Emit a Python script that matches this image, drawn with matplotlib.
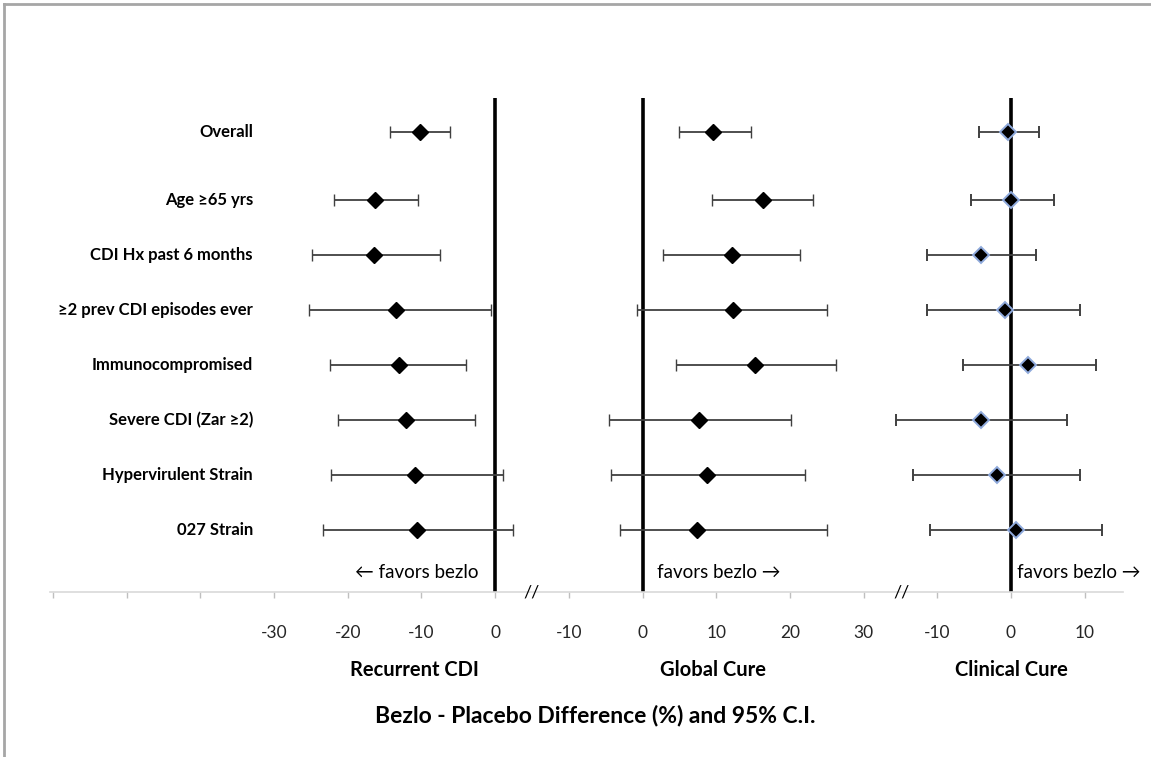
import matplotlib
matplotlib.use("Agg")
import matplotlib.pyplot as plt
import matplotlib.transforms as mtransforms
from matplotlib.lines import Line2D

FONT = ['Lato', 'DejaVu Sans']
plt.rcParams['font.family'] = FONT

subgroups = ["Overall", "Age ≥65 yrs", "CDI Hx past 6 months", "≥2 prev CDI episodes ever",
             "Immunocompromised", "Severe CDI (Zar ≥2)", "Hypervirulent Strain", "027 Strain"]

# Recurrent CDI: estimate, lower, upper
rcdi_est = [-10.2, -16.3, -16.4, -13.4, -13.0, -12.1, -10.9, -10.6]
rcdi_lo = [-14.2, -21.8, -24.8, -25.2, -22.4, -21.3, -22.3, -23.3]
rcdi_hi = [-6.1, -10.4, -7.5, -0.5, -3.9, -2.7, 1.1, 2.4]

# Global Cure
gc_est = [9.6, 16.3, 12.2, 12.3, 15.3, 7.7, 8.8, 7.4]
gc_lo = [5.0, 9.4, 2.8, -0.7, 4.5, -4.6, -4.3, -3.0]
gc_hi = [14.7, 23.1, 21.4, 25.1, 26.2, 20.1, 22.0, 25.1]

# Clinical Cure
cc_est = [-0.4, 0.0, -4.1, -0.8, 2.3, -4.1, -1.9, 0.7]
cc_lo = [-4.3, -5.4, -11.4, -11.4, -6.5, -15.6, -13.3, -11.0]
cc_hi = [3.8, 5.8, 3.4, 9.4, 11.5, 7.6, 9.4, 12.4]

panel_names = ["Recurrent CDI", "Global Cure", "Clinical Cure"]
panel_offsets = [0, 20, 70]  # where each panel's zero sits on the shared axis
tick_vals = [None, None, None, -30, -20, -10, 0, -10, 0, 10, 20, 30, -10, 0, 10]

# layout: row positions (Overall separated by a slightly larger gap)
row_y = [0] + [1.24 + i for i in range(7)]

fig = plt.figure(figsize=(11.51, 7.57), dpi=100)
ax = fig.add_axes([50 / 1151, 1 - 592 / 757, (1123 - 50) / 1151, (592 - 98) / 757])
ax.set_xlim(-60.4, 85.2)
ax.set_ylim(8.36, -0.62)

panels = [(rcdi_est, rcdi_lo, rcdi_hi), (gc_est, gc_lo, gc_hi), (cc_est, cc_lo, cc_hi)]
for k, ((est, lo, hi), off) in enumerate(zip(panels, panel_offsets)):
    xs = [e + off for e in est]
    xerr = [[e - l for e, l in zip(est, lo)], [h - e for e, h in zip(est, hi)]]
    ax.axvline(off, color='black', lw=2.6, zorder=1)
    if k == 2:
        mfc, mec, mew = 'black', '#8faadc', 1.4
    else:
        mfc, mec, mew = 'black', 'black', 1.0
    ax.errorbar(xs, row_y, xerr=xerr, fmt='D', color='#404040', ecolor='#404040',
                elinewidth=1.3, capsize=4, capthick=1.3, markersize=8.5,
                markerfacecolor=mfc, markeredgecolor=mec, markeredgewidth=mew, zorder=3)

# axis styling
for s in ['top', 'right', 'left']:
    ax.spines[s].set_visible(False)
ax.spines['bottom'].set_color('#d9d9d9')
ax.spines['bottom'].set_linewidth(1.2)
ax.set_yticks([])
tick_pos = [-60 + 10 * i for i in range(len(tick_vals))]
ax.set_xticks(tick_pos)
ax.set_xticklabels(['' if v is None else str(v) for v in tick_vals])
ax.tick_params(axis='x', direction='out', length=4, width=1, color='#bfbfbf',
               labelsize=12.5, labelcolor='#262626', pad=20)

# row labels
trans_lab = mtransforms.blended_transform_factory(fig.transFigure, ax.transData)
for lab, y in zip(subgroups, row_y):
    fig.text(253 / 1151, y, lab, transform=trans_lab, ha='right', va='center',
             fontsize=12, fontweight='bold', color='black')

# favors annotations
ax.text(-2.3, 8.0, "← favors bezlo", ha='right', va='center', fontsize=13.5, color='black')
ax.text(21.9, 8.0, "favors bezlo →", ha='left', va='center', fontsize=13.5, color='black')
ax.text(70.8, 8.0, "favors bezlo →", ha='left', va='center', fontsize=13.5, color='black')

# axis breaks
for xb in [5.0, 55.2]:
    ax.text(xb, 8.36, "//", ha='center', va='center', fontsize=13, color='black',
            clip_on=False)

# panel titles
trans_t = mtransforms.blended_transform_factory(ax.transData, fig.transFigure)
for name, xc in zip(panel_names, [-11, 29.5, 70]):
    ax.text(xc, 1 - 670 / 757, name, transform=trans_t, ha='center', va='center',
            fontsize=14.5, fontweight='bold', color='black')

fig.text(595 / 1151, 1 - 716 / 757, "Bezlo - Placebo Difference (%) and 95% C.I.",
         ha='center', va='center', fontsize=16.5, fontweight='bold', color='black')

# outer frame (top and left edge)
fig.add_artist(Line2D([4 / 1151, 1], [1 - 4 / 757, 1 - 4 / 757], color='#a6a6a6', lw=2,
                      transform=fig.transFigure))
fig.add_artist(Line2D([4 / 1151, 4 / 1151], [0, 1 - 4 / 757], color='#a6a6a6', lw=2,
                      transform=fig.transFigure))

fig.savefig("out.png", dpi=100)
